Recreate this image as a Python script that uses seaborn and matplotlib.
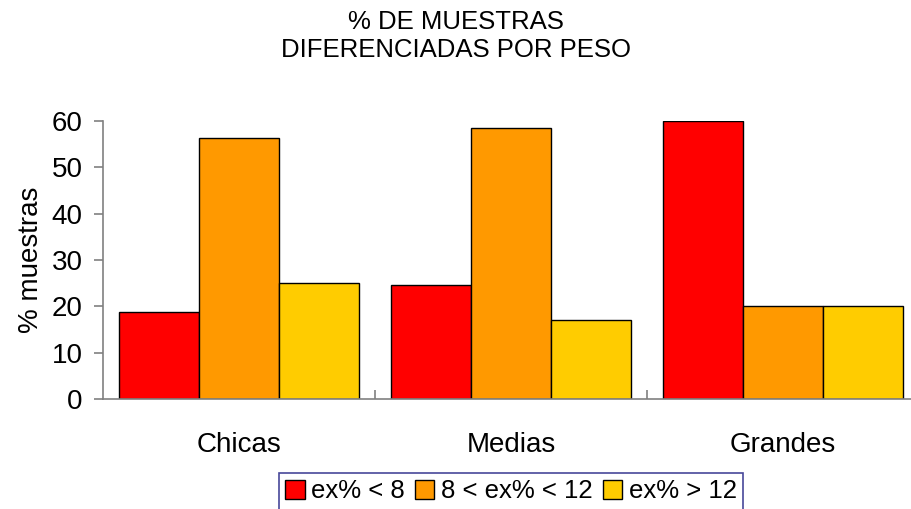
import matplotlib
matplotlib.use("Agg")
import matplotlib.pyplot as plt
import seaborn as sns
import pandas as pd
from matplotlib.patches import Patch

categories = ["Chicas", "Medias", "Grandes"]
series_names = ["ex% < 8", "8 < ex% < 12", "ex% > 12"]
low_vals = [18.75, 24.5, 60.0]
mid_vals = [56.25, 58.5, 20.0]
high_vals = [25.0, 17.0, 20.0]
colors = ["#FF0000", "#FF9900", "#FFCC00"]

rows = []
for name, vals in zip(series_names, [low_vals, mid_vals, high_vals]):
    for cat, v in zip(categories, vals):
        rows.append({"grupo": cat, "serie": name, "pct": v})
df = pd.DataFrame(rows)

sns.set_style("white")
plt.rcParams["font.family"] = ["Liberation Sans", "DejaVu Sans"]
plt.rcParams["text.color"] = "black"
plt.rcParams["axes.labelcolor"] = "black"
plt.rcParams["xtick.color"] = "black"
plt.rcParams["ytick.color"] = "black"

W, H = 912, 509
fig = plt.figure(figsize=(W / 100, H / 100), dpi=100)
# axes spans x 103..919 px, y 121..399 px
ax = fig.add_axes([103 / W, 1 - 399 / H, (919 - 103) / W, (399 - 121) / H])

sns.barplot(data=df, x="grupo", y="pct", hue="serie", order=categories,
            hue_order=series_names, palette=colors, width=0.88, gap=0,
            edgecolor="black", linewidth=1.0, saturation=1, ax=ax, legend=False)

ax.set_xlim(-0.5, 2.5)
ax.set_ylim(0, 60)
ax.set_yticks(range(0, 61, 10))
ax.set_xlabel("")
ax.set_ylabel("% muestras", fontsize=20, labelpad=6)

for s in ["top", "right"]:
    ax.spines[s].set_visible(False)
for s in ["left", "bottom"]:
    ax.spines[s].set_color("#808080")
    ax.spines[s].set_linewidth(1.2)

ax.tick_params(axis="y", direction="out", length=6.5, width=1.2, color="#808080",
               labelcolor="black", labelsize=20, pad=8, left=True)
ax.tick_params(axis="x", which="major", length=0, labelsize=20, pad=24,
               labelcolor="black")
ax.set_xticks([0.5, 1.5], minor=True)
ax.tick_params(axis="x", which="minor", direction="in", length=6.5, width=1.2,
               color="#808080", bottom=True)

fig.text(0.5, 1 - 36 / H, "% DE MUESTRAS\nDIFERENCIADAS POR PESO",
         ha="center", va="center", fontsize=18.5, linespacing=1.17)

handles = [Patch(facecolor=c, edgecolor="black", linewidth=1.0) for c in colors]
leg = fig.legend(handles, series_names, loc="upper center",
                 bbox_to_anchor=(511 / W, 1 - 473 / H), ncol=3, fontsize=18.5,
                 frameon=True, fancybox=False, handlelength=0.75, handleheight=0.75,
                 handletextpad=0.25, columnspacing=0.4, borderpad=0.25,
                 borderaxespad=0)
leg.get_frame().set_edgecolor("#1a1a80")
leg.get_frame().set_linewidth(1.2)

fig.savefig("out.png", dpi=100)
